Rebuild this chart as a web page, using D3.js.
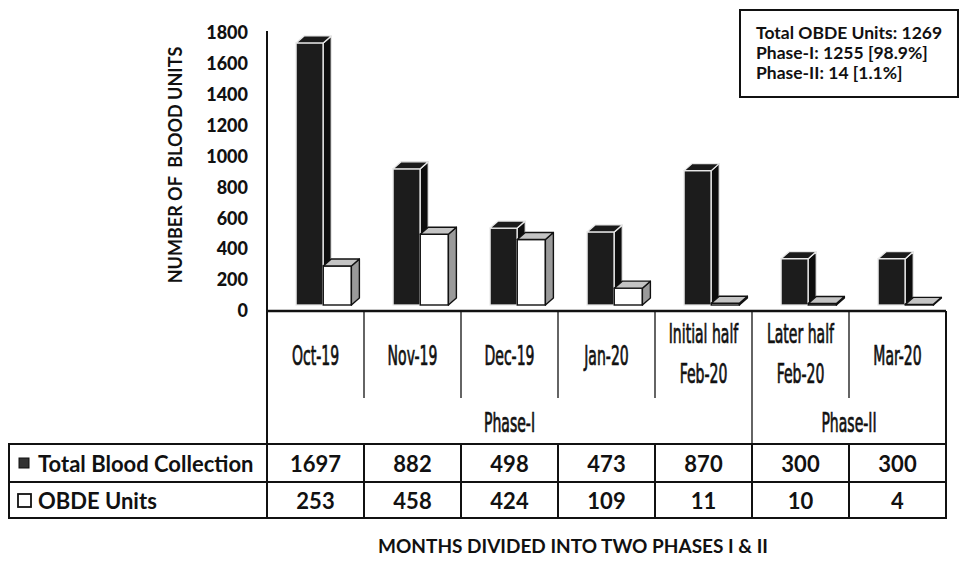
<html>
<head>
<title>OBDE Units</title>
<style>
  body { margin: 0; background: #fff; }
  svg text { font-family: Lato, "Open Sans", Arial, sans-serif; font-weight: bold; fill: #111; }
  .narrow { font-family: "DejaVu Sans Condensed", "Liberation Sans Narrow", Arial, sans-serif; font-weight: normal; stroke: #111; stroke-width: 0.55px; }
</style>
</head>
<body>
<div id="chart-holder"></div>
<script src="https://d3js.org/d3.v7.min.js"></script>
<script>
// data
var categories = ['Oct-19', 'Nov-19', 'Dec-19', 'Jan-20', 'Initial half Feb-20', 'Later half Feb-20', 'Mar-20'];
var categoryLines = [['Oct-19'], ['Nov-19'], ['Dec-19'], ['Jan-20'], ['Initial half', 'Feb-20'], ['Later half', 'Feb-20'], ['Mar-20']];
var totalBlood = [1697, 882, 498, 473, 870, 300, 300];
var obdeUnits = [253, 458, 424, 109, 11, 10, 4];
var phaseNames = ['Phase-I', 'Phase-II'];
var phaseOf = [0, 0, 0, 0, 0, 1, 1];
var yTicks = [0, 200, 400, 600, 800, 1000, 1200, 1400, 1600, 1800];
var seriesNames = ['Total Blood Collection', 'OBDE Units'];
var summaryLines = ['Total OBDE Units: 1269', 'Phase-I: 1255 [98.9%]', 'Phase-II: 14 [1.1%]'];

var width = 962, height = 564;

var svg = d3.select('#chart-holder').append('svg')
    .attr('width', width).attr('height', height);

// scales
var x = d3.scaleBand().domain(categories).range([267, 946]).padding(0);
var y = d3.scaleLinear().domain([0, 1800]).range([311, 33]);

var bw = x.bandwidth();
var lift = 6;      // bars stand a bit above the floor line
var dx = 8, dy = 7; // 3d depth

// y axis
var yAxis = d3.axisLeft(y).tickValues(yTicks).tickFormat(d3.format('d')).tickSize(0).tickPadding(19);
var ga = svg.append('g').attr('transform', 'translate(267,0)').call(yAxis);
ga.select('.domain').remove();
ga.selectAll('text').style('font-family', 'Lato, sans-serif').style('font-weight', '900')
  .style('font-size', '18px').attr('fill', '#111');

// axis title
svg.append('text')
  .attr('transform', 'translate(182,165) rotate(-90)')
  .attr('text-anchor', 'middle')
  .style('font-size', '18px')
  .style('white-space', 'pre')
  .text('NUMBER OF  BLOOD UNITS');

// 3d bar
function bar3d(g, x0, w, v, front, side, top, stroke, sw) {
  var yb = y(0) - lift, yt = y(v) - lift;
  g.append('rect').attr('x', x0).attr('y', yt).attr('width', w).attr('height', yb - yt)
    .attr('fill', front).attr('stroke', stroke).attr('stroke-width', sw);
  g.append('polygon')
    .attr('points', [[x0 + w, yt], [x0 + w + dx, yt - dy], [x0 + w + dx, yb - dy], [x0 + w, yb]].join(' '))
    .attr('fill', side).attr('stroke', stroke).attr('stroke-width', sw).attr('stroke-linejoin', 'round');
  g.append('polygon')
    .attr('points', [[x0, yt], [x0 + dx, yt - dy], [x0 + w + dx, yt - dy], [x0 + w, yt]].join(' '))
    .attr('fill', top).attr('stroke', stroke).attr('stroke-width', sw).attr('stroke-linejoin', 'round');
}

var bars = svg.append('g');
categories.forEach(function(c, i) {
  var g = bars.append('g');
  var x0 = x(c) + bw * 0.3;
  var w1 = bw * 0.28, w2 = bw * 0.29;
  bar3d(g, x0, w1, totalBlood[i], '#1c1c1c', '#0d0d0d', '#1a1a1a', '#e8e8e8', 1.3);
  bar3d(g, x0 + w1, w2, obdeUnits[i], '#fff', '#9a9a9a', '#c4c4c4', '#111', 1.4);
});

// summary box
svg.append('rect').attr('x', 740).attr('y', 10).attr('width', 218).attr('height', 87)
  .attr('fill', '#fff').attr('stroke', '#111').attr('stroke-width', 2);
summaryLines.forEach(function(t, i) {
  svg.append('text').attr('x', 756).attr('y', 32 + i * 20)
    .attr('dominant-baseline', 'central').style('font-size', '17.5px').text(t);
});

// category area and table lines
var lines = svg.append('g').attr('stroke', '#111').attr('fill', 'none');
var x1 = x.range()[1];
lines.append('line').attr('x1', 267).attr('x2', 267).attr('y1', 31).attr('y2', 519).attr('stroke-width', 2);
lines.append('line').attr('x1', 266).attr('x2', x1).attr('y1', 311).attr('y2', 311).attr('stroke-width', 2.5);
lines.append('line').attr('x1', x1).attr('x2', x1).attr('y1', 311).attr('y2', 519).attr('stroke-width', 2);
categories.forEach(function(c, i) {
  if (i === 0) return;
  var boundary = phaseOf[i] !== phaseOf[i - 1];
  lines.append('line').attr('x1', x(c)).attr('x2', x(c))
    .attr('y1', 311).attr('y2', boundary ? 444 : 398).attr('stroke-width', 1.3);
  lines.append('line').attr('x1', x(c)).attr('x2', x(c))
    .attr('y1', 444).attr('y2', 518).attr('stroke-width', 2);
});
lines.append('rect').attr('x', 9).attr('y', 444).attr('width', x1 - 9).attr('height', 74).attr('stroke-width', 2);
lines.append('line').attr('x1', 9).attr('x2', x1).attr('y1', 482).attr('y2', 482).attr('stroke-width', 2);

// category labels (narrow, tall font)
function narrowText(cx, cy, t) {
  svg.append('text').attr('class', 'narrow')
    .attr('transform', 'translate(' + cx + ',' + cy + ') scale(0.78,1.36)')
    .attr('text-anchor', 'middle').attr('dominant-baseline', 'central')
    .style('font-size', '20px').text(t);
}
categories.forEach(function(c, i) {
  var ls = categoryLines[i];
  var cx = x(c) + bw / 2;
  if (ls.length === 1) narrowText(cx, 355, ls[0]);
  else ls.forEach(function(t, j) { narrowText(cx, 333 + j * 40, t); });
});
phaseNames.forEach(function(p, k) {
  var idx = categories.filter(function(c, i) { return phaseOf[i] === k; });
  var a = x(idx[0]), b = x(idx[idx.length - 1]) + bw;
  narrowText((a + b) / 2, 422, p);
});

// table rows
var rowY = [463, 500];
[totalBlood, obdeUnits].forEach(function(vals, r) {
  vals.forEach(function(v, i) {
    svg.append('text').attr('x', x(categories[i]) + bw / 2).attr('y', rowY[r])
      .attr('text-anchor', 'middle').attr('dominant-baseline', 'central')
      .style('font-size', '22px').text(v);
  });
  svg.append('text').attr('x', 38).attr('y', rowY[r])
    .attr('dominant-baseline', 'central').style('font-size', '22px').text(seriesNames[r]);
});
svg.append('rect').attr('x', 19).attr('y', 458).attr('width', 10).attr('height', 10)
  .attr('fill', '#333').attr('stroke', '#111').attr('stroke-width', 1);
svg.append('rect').attr('x', 18).attr('y', 494).attr('width', 13).attr('height', 13)
  .attr('fill', '#fff').attr('stroke', '#111').attr('stroke-width', 1.8);

// x title
svg.append('text').attr('x', 573).attr('y', 545)
  .attr('text-anchor', 'middle').attr('dominant-baseline', 'central')
  .style('font-size', '19px').text('MONTHS DIVIDED INTO TWO PHASES I & II');
</script>
</body>
</html>
